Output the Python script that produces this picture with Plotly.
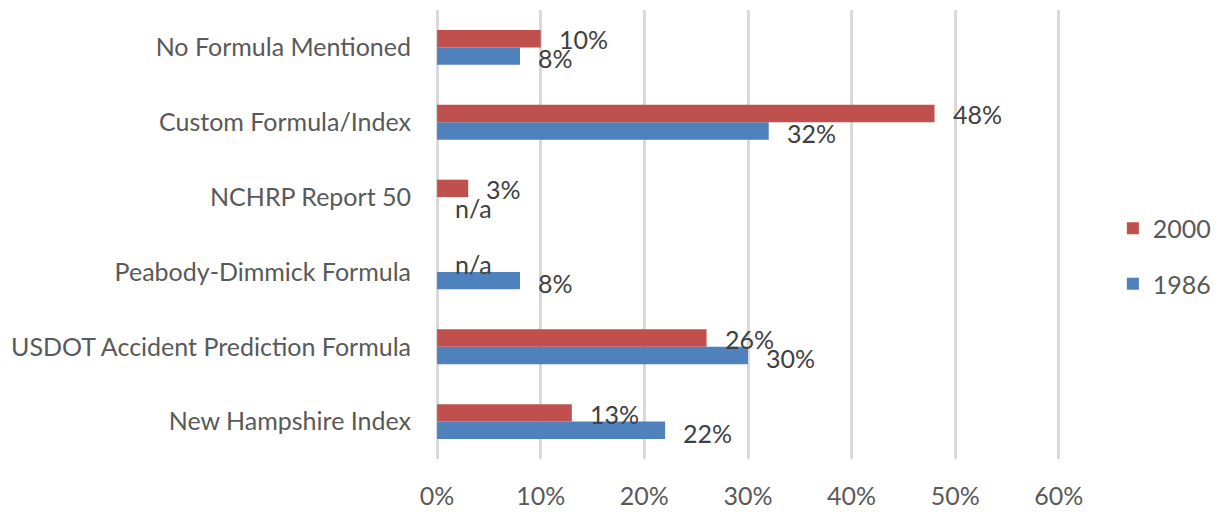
import plotly.graph_objects as go

categories = ["New Hampshire Index", "USDOT Accident Prediction Formula",
              "Peabody-Dimmick Formula", "NCHRP Report 50",
              "Custom Formula/Index", "No Formula Mentioned"]
values_1986 = [0.22, 0.30, 0.08, None, 0.32, 0.08]
values_2000 = [0.13, 0.26, None, 0.03, 0.48, 0.10]
x_ticks = [0, 0.1, 0.2, 0.3, 0.4, 0.5, 0.6]
x_tick_labels = ["0%", "10%", "20%", "30%", "40%", "50%", "60%"]

FONT = "Lato"
FS = 25
fig = go.Figure()
fig.add_trace(go.Bar(y=categories, x=values_1986, orientation="h", name="1986",
                     marker=dict(color="#4F81BD", line=dict(width=0)),
                     legendgroup="a", legendrank=2))
fig.add_trace(go.Bar(y=categories, x=values_2000, orientation="h", name="2000",
                     marker=dict(color="#C0504D", line=dict(width=0)),
                     legendgroup="b", legendrank=1))

def lab(v):
    return "n/a" if v is None else f"{round(v*100)}%"

ann = []
for cat, v in zip(categories, values_2000):
    ann.append(dict(x=0 if v is None else v, y=cat, text=lab(v), showarrow=False,
                    xanchor="left", yanchor="middle", xshift=16, yshift=8,
                    font=dict(family=FONT, size=FS, color="#404040")))
for cat, v in zip(categories, values_1986):
    ann.append(dict(x=0 if v is None else v, y=cat, text=lab(v), showarrow=False,
                    xanchor="left", yanchor="middle", xshift=16, yshift=-11,
                    font=dict(family=FONT, size=FS, color="#404040")))

fig.update_layout(
    width=1211, height=504,
    margin=dict(l=426, r=154, t=2, b=50),
    plot_bgcolor="white", paper_bgcolor="white",
    barmode="group", bargap=0.535, bargroupgap=0,
    font=dict(family=FONT, size=FS, color="#595959"),
    annotations=ann,
    legend=dict(x=1.081, xanchor="left", y=0.452, yanchor="middle",
                traceorder="grouped", tracegroupgap=20,
                font=dict(family=FONT, size=FS, color="#595959")),
    xaxis=dict(range=[-0.003, 0.603], tickvals=x_ticks, ticktext=x_tick_labels,
               showgrid=True, gridcolor="#D9D9D9", gridwidth=2.5,
               zeroline=True, zerolinecolor="#D9D9D9", zerolinewidth=2.5,
               showline=False, ticklabelstandoff=20,
               tickfont=dict(family=FONT, size=FS, color="#595959")),
    yaxis=dict(showgrid=False, zeroline=False, showline=False,
               ticklabelstandoff=22,
               tickfont=dict(family=FONT, size=FS, color="#595959")),
)
fig.write_html("out.html")
